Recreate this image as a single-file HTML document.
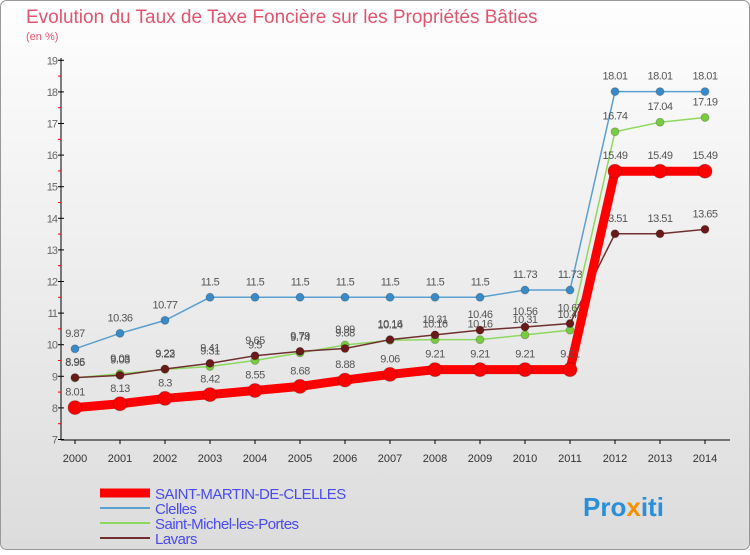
<!DOCTYPE html>
<html><head><meta charset="utf-8"><style>
body{margin:0;width:750px;height:550px;overflow:hidden;font-family:"Liberation Sans",sans-serif}
</style></head><body>
<svg width="750" height="550" xmlns="http://www.w3.org/2000/svg">
<defs><linearGradient id="bg" x1="0" y1="0" x2="0" y2="1"><stop offset="0" stop-color="#fefefe"/><stop offset="1" stop-color="#dcdcdc"/></linearGradient></defs>
<rect x="0.5" y="0.5" width="749" height="549" rx="6" fill="url(#bg)" stroke="#999"/>
<text x="26" y="23" font-size="19" fill="#e0556e">Evolution du Taux de Taxe Foncière sur les Propriétés Bâties</text>
<text x="26" y="40" font-size="11" fill="#e0556e">(en %)</text>
<g id="axes"></g><g id="series"></g><g id="legend"></g>
<text x="583" y="516" font-size="26" font-weight="bold" fill="#2a8fd8">Pro<tspan fill="#f39200">x</tspan>iti</text>
</svg>
<script>
const years=[2000,2001,2002,2003,2004,2005,2006,2007,2008,2009,2010,2011,2012,2013,2014];
const yTicks=[7,8,9,10,11,12,13,14,15,16,17,18,19];
const stMartin=[8.01,8.13,8.3,8.42,8.55,8.68,8.88,9.06,9.21,9.21,9.21,9.21,15.49,15.49,15.49];
const clelles=[9.87,10.36,10.77,11.5,11.5,11.5,11.5,11.5,11.5,11.5,11.73,11.73,18.01,18.01,18.01];
const stMichel=[8.95,9.08,9.22,9.31,9.5,9.74,9.99,10.14,10.16,10.16,10.31,10.46,16.74,17.04,17.19];
const lavars=[8.96,9.03,9.23,9.41,9.65,9.79,9.88,10.16,10.31,10.46,10.56,10.67,13.51,13.51,13.65];
const NS="http://www.w3.org/2000/svg";
const X=i=>75+i*45, Y=v=>439.5-(v-7)*31.6;
function mk(t,a,p){const e=document.createElementNS(NS,t);for(const k in a)e.setAttribute(k,a[k]);p.appendChild(e);return e;}
const ax=document.getElementById('axes');
const yl=mk('line',{x1:61,y1:58,x2:61,y2:440,stroke:'#000'},ax);


const xl=mk('line',{x1:61,y1:440,x2:730,y2:440,stroke:'#000'},ax);


yTicks.forEach(v=>{
  mk('line',{x1:58,y1:Y(v),x2:64,y2:Y(v),stroke:'#000'},ax);
  if(v<19)mk('line',{x1:58,y1:Y(v+0.5),x2:61,y2:Y(v+0.5),stroke:'#e00'},ax);
  const t=mk('text',{x:57,y:Y(v)+4,'font-size':11,fill:'#666','text-anchor':'end','letter-spacing':'-1'},ax);t.textContent=v;
  
  
});
years.forEach((y,i)=>{
  mk('line',{x1:X(i),y1:440,x2:X(i),y2:444,stroke:'#000'},ax);
  const t=mk('text',{x:X(i),y:462,'font-size':11,fill:'#333','text-anchor':'middle'},ax);t.textContent=y;
  
  
});
const sg=document.getElementById('series');
const series=[
 {d:clelles,c:'#5aa0d0',pc:'#3a8ac8',w:1.5,r:4,n:'clelles'},
 {d:stMichel,c:'#8fd860',pc:'#78cc40',w:1.5,r:4,n:'saint-michel'},
 {d:lavars,c:'#703030',pc:'#6a1a1a',w:1.5,r:4,n:'lavars'},
 {d:stMartin,c:'#f00',pc:'#f00',w:9,r:7,n:'saint-martin'}];
series.forEach(s=>{
  const g=mk('g',{},sg);
  
  
  const pl=mk('polyline',{points:s.d.map((v,i)=>X(i)+','+Y(v)).join(' '),fill:'none',stroke:s.c,'stroke-width':s.w},g);
  
  
  s.d.forEach((v,i)=>{
    const c=mk('circle',{cx:X(i),cy:Y(v),r:s.r,fill:s.pc,stroke:'rgba(0,0,0,0.2)'},g);
    
    
    const t=mk('text',{x:X(i),y:Y(v)-12,'font-size':11,fill:'#555','text-anchor':'middle','letter-spacing':'-0.5'},g);t.textContent=v;
    
    
  });
});
const lg=document.getElementById('legend');
const leg=[['SAINT-MARTIN-DE-CLELLES','#f00',9],['Clelles','#5aa0d0',2],['Saint-Michel-les-Portes','#8fd860',2],['Lavars','#703030',2]];
leg.forEach((l,i)=>{
  const y=493+i*15;
  const g=mk('g',{},lg);
  
  
  mk('line',{x1:100,y1:y,x2:150,y2:y,stroke:l[1],'stroke-width':l[2]},g);
  const t=mk('text',{x:155,y:y+6,'font-size':15,fill:'#4a4af0','letter-spacing':'-0.5'},g);t.textContent=l[0];
});
</script>
</body></html>
